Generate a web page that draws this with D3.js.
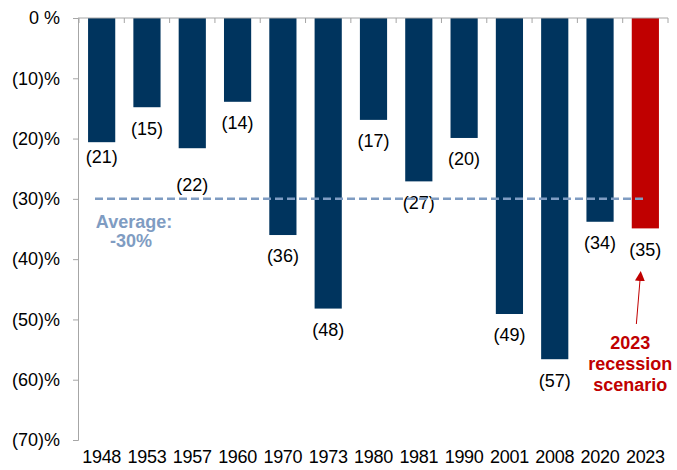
<!DOCTYPE html>
<html>
<head>
<meta charset="utf-8">
<script src="https://cdn.jsdelivr.net/npm/d3@7"></script>
<style>
  body { margin: 0; background: #fff; }
  svg { display: block; font-family: "Liberation Sans", Arial, sans-serif; }
</style>
</head>
<body>
<script>
// recession years and peak-to-trough earnings decline (%)
var years = ["1948", "1953", "1957", "1960", "1970", "1973", "1980", "1981", "1990", "2001", "2008", "2020", "2023"];
var declines = [-20.6, -14.8, -21.6, -13.9, -36, -48.2, -16.9, -27.1, -19.9, -49.1, -56.6, -33.8, -34.9];
var yTicks = [0, -10, -20, -30, -40, -50, -60, -70];
var average = -30;
var scenarioYear = "2023";

var width = 677,
    height = 470;

var svg = d3.select("body")
    .append("svg")
    .attr("width", width)
    .attr("height", height);

var x = d3.scaleBand()
    .domain(years)
    .range([79, 668])
    .paddingInner(0.4)
    .paddingOuter(0.2);

var y = d3.scaleLinear()
    .domain([0, -70])
    .range([18, 440]);

//y axis
var yAxis = svg.append("g")
    .attr("transform", "translate(78,0)")
    .call(d3.axisLeft(y)
        .tickValues(yTicks)
        .tickSize(5)
        .tickPadding(13)
        .tickFormat(function(d){ return d === 0 ? "0 %" : "(" + (-d) + ")%"; }));
yAxis.select(".domain").attr("stroke", "#a6a6a6");
yAxis.selectAll(".tick line").attr("stroke", "#a6a6a6");
yAxis.selectAll("text").attr("font-size", 18).attr("fill", "#000")
    .attr("font-family", "Liberation Sans, Arial, sans-serif");

//bars
svg.selectAll(".bar")
    .data(years)
    .enter()
    .append("rect")
    .attr("class", "bar")
    .attr("x", function(d){ return x(d); })
    .attr("y", y(0))
    .attr("width", x.bandwidth())
    .attr("height", function(d, i){ return y(declines[i]) - y(0); })
    .attr("fill", function(d){ return d === scenarioYear ? "#c00000" : "#00345e"; });

//top axis line with category ticks
var step = x.step();
var edges = d3.range(years.length + 1).map(function(i){ return 79 + i * step; });
svg.append("line")
    .attr("x1", 78).attr("x2", 668)
    .attr("y1", y(0)).attr("y2", y(0))
    .attr("stroke", "#a6a6a6");
svg.selectAll(".cat-tick")
    .data(edges)
    .enter()
    .append("line")
    .attr("x1", function(d){ return d; }).attr("x2", function(d){ return d; })
    .attr("y1", y(0)).attr("y2", y(0) + 5)
    .attr("stroke", "#a6a6a6");

//value labels (a couple are nudged as in the original)
var nudge = { "1948": -6, "1957": 15 };
svg.selectAll(".val")
    .data(years)
    .enter()
    .append("text")
    .attr("x", function(d){ return x(d) + x.bandwidth() / 2; })
    .attr("y", function(d, i){ return y(declines[i]) + 21 + (nudge[d] || 0); })
    .attr("dy", "0.35em")
    .attr("text-anchor", "middle")
    .attr("font-size", 18)
    .text(function(d, i){ return "(" + Math.round(-declines[i]) + ")"; });

//year labels
svg.selectAll(".year")
    .data(years)
    .enter()
    .append("text")
    .attr("x", function(d){ return x(d) + x.bandwidth() / 2; })
    .attr("y", 463)
    .attr("text-anchor", "middle")
    .attr("font-size", 18)
    .attr("letter-spacing", -0.3)
    .text(function(d){ return d; });

//average line
svg.append("line")
    .attr("x1", 95).attr("x2", 647)
    .attr("y1", y(average)).attr("y2", y(average))
    .attr("stroke", "#7f9cc2")
    .attr("stroke-width", 2.5)
    .attr("stroke-dasharray", "8,4");
svg.append("text")
    .attr("x", 134).attr("y", 228)
    .attr("text-anchor", "middle")
    .attr("font-size", 18).attr("font-weight", "bold")
    .attr("fill", "#7f9cc2")
    .text("Average:");
svg.append("text")
    .attr("x", 131).attr("y", 247)
    .attr("text-anchor", "middle")
    .attr("font-size", 18).attr("font-weight", "bold")
    .attr("fill", "#7f9cc2")
    .text(average + "%");

//scenario annotation
var cx = x(scenarioYear) + x.bandwidth() / 2;
svg.append("defs").append("marker")
    .attr("id", "head")
    .attr("viewBox", "0 0 10 10")
    .attr("refX", 5).attr("refY", 5)
    .attr("markerWidth", 10).attr("markerHeight", 10)
    .attr("markerUnits", "userSpaceOnUse")
    .attr("orient", "auto")
    .append("path")
    .attr("d", "M0,0 L10,5 L0,10 Z")
    .attr("fill", "#c00000");
svg.append("line")
    .attr("x1", cx - 9).attr("y1", 324)
    .attr("x2", cx - 5).attr("y2", 276)
    .attr("stroke", "#c00000")
    .attr("stroke-width", 1)
    .attr("marker-end", "url(#head)");
var note = svg.append("text")
    .attr("text-anchor", "middle")
    .attr("font-size", 18).attr("font-weight", "bold")
    .attr("fill", "#c00000");
["2023", "recession", "scenario"].forEach(function(t, i){
    note.append("tspan").attr("x", cx - 15).attr("y", 349 + i * 21).text(t);
});
</script>
</body>
</html>
